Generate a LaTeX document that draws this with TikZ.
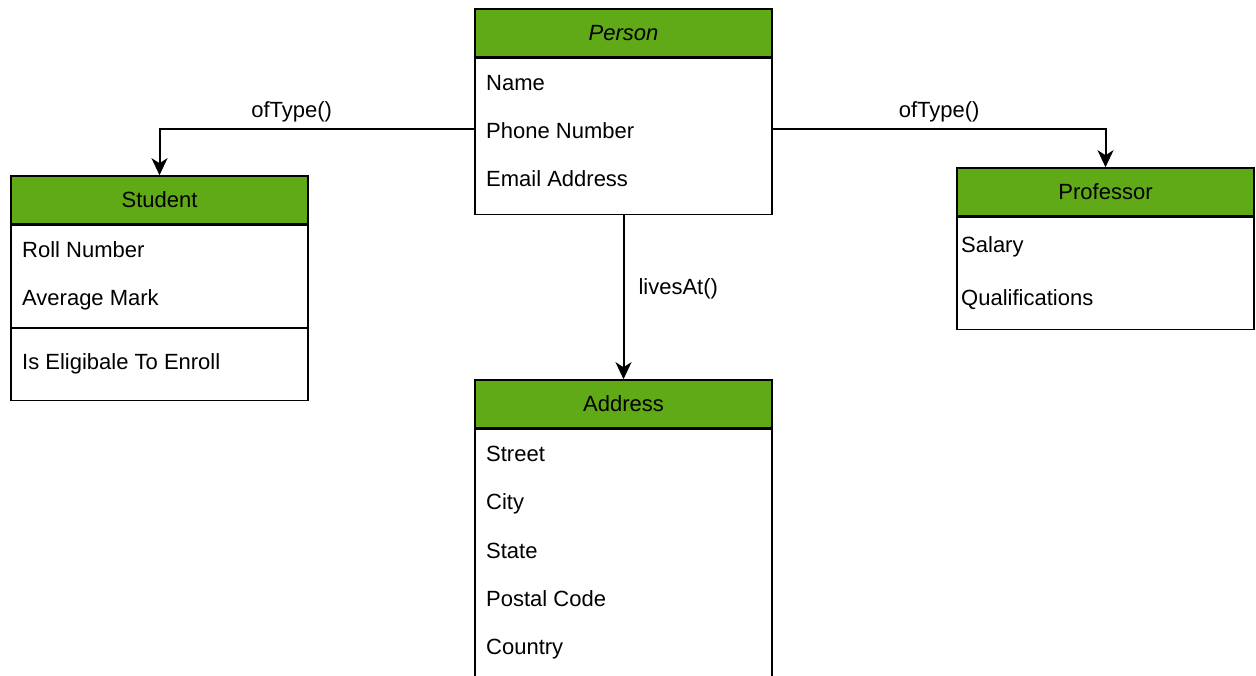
\documentclass[tikz,border=0pt]{standalone}
\usepackage{fontspec}
\setmainfont{Liberation Sans}
\usetikzlibrary{positioning,arrows.meta}
\definecolor{umlgreen}{HTML}{60A917}
\tikzstyle{head} = [rectangle, draw, fill=umlgreen, line width=1.6pt,
    minimum width=297pt, minimum height=48pt, inner sep=0pt,
    font=\fontsize{22}{26}\selectfont]
\tikzstyle{body} = [rectangle, draw, fill=white, line width=1.6pt,
    minimum width=297pt, inner sep=0pt]
\tikzstyle{attr} = [anchor=base west, inner sep=0pt, font=\fontsize{22}{26}\selectfont]
\tikzstyle{edgelabel} = [inner sep=0pt, font=\fontsize{22}{26}\selectfont]
\tikzstyle{line} = [draw, line width=2pt,
    -{Stealth[length=17pt, width=16pt, inset=5pt]}]

\begin{document}
\begin{tikzpicture}[x=1pt, y=-1pt, node distance=0pt]
    \useasboundingbox (0,0) rectangle (1256,675);
    \clip (0,0) rectangle (1256,675);
    % Place class boxes
    \node [head] (person) at (623.5,33) {\itshape Person};
    \node [body, minimum height=156pt, below=0pt of person] (personbody) {};
    \node [attr] (name) at (486,90) {Name};
    \node [attr] (phone) at (486,138) {Phone Number};
    \node [attr] (email) at (486,186) {Email Address};

    \node [head] (student) at (159.5,200) {Student};
    \node [body, minimum height=175pt, below=0pt of student] (studentbody) {};
    \draw [line width=1.6pt] (studentbody.west |- 0,328) -- (studentbody.east |- 0,328);
    \node [attr] (roll) at (22,257) {Roll Number};
    \node [attr] (mark) at (22,305) {Average Mark};
    \node [attr] (enroll) at (22,369) {Is Eligibale To Enroll};

    \node [head] (professor) at (1105.5,192) {Professor};
    \node [body, minimum height=112pt, below=0pt of professor] (professorbody) {};
    \node [attr] (salary) at (961,252) {Salary};
    \node [attr] (qualif) at (961,305) {Qualifications};

    \node [head] (address) at (623.5,404) {Address};
    \node [body, minimum height=300pt, below=0pt of address] (addressbody) {};
    \node [attr] (street) at (486,461) {Street};
    \node [attr] (city) at (486,509) {City};
    \node [attr] (state) at (486,558) {State};
    \node [attr] (postal) at (486,606) {Postal Code};
    \node [attr] (country) at (486,654) {Country};

    % Draw edges
    \path [line] (personbody.west |- 0,129) -| (student.north)
        node [edgelabel, pos=0.29, above=6pt] {ofType()};
    \path [line] (personbody.east |- 0,129) -| (professor.north)
        node [edgelabel, pos=0.25, above=6pt] {ofType()};
    \path [line] (personbody.south) -- (address.north)
        node [edgelabel, pos=0.45, right=14pt] {livesAt()};
\end{tikzpicture}
\end{document}
